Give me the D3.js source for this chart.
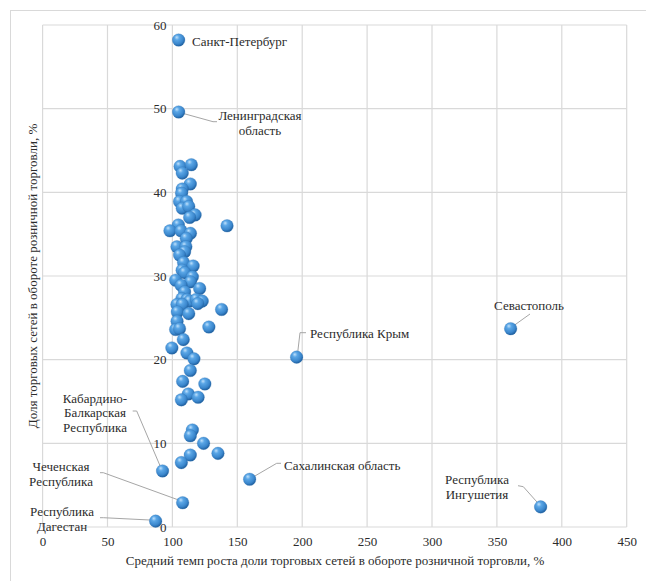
<!DOCTYPE html>
<html><head><meta charset="utf-8">
<script src="https://cdn.jsdelivr.net/npm/d3@7/dist/d3.min.js"></script>
<style>body{margin:0;background:#fff}svg{display:block}</style>
</head><body>
<script>
// Unlabelled regions: x = average growth rate (%), y = share (%)
const clusterX = [105.9,114.6,107.6,113.8,107.6,107.1,105.5,110.9,107.6,112.6,117.5,113.3,142.1,104.6,98.1,106.6,113.9,110.7,103.5,110.4,109.4,105.5,108.6,116.0,107.5,109.4,115.4,102.5,113.9,106.7,121.0,109.4,107.3,111.3,113.3,118.4,123.0,103.5,107.6,119.6,137.9,103.8,112.6,103.6,102.5,105.5,128.1,108.4,99.6,111.2,116.6,113.8,107.9,125.0,112.3,106.9,119.8,115.4,113.8,124.0,113.8,106.9,135.1];
const clusterY = [43.1,43.3,42.3,41.0,40.4,39.9,38.9,38.9,38.1,38.3,37.3,37.0,36.0,36.1,35.4,35.4,35.1,34.5,33.5,33.5,32.9,32.5,31.6,31.2,30.7,30.4,29.9,29.5,29.3,28.9,28.5,28.1,27.3,27.2,27.0,27.2,27.0,26.6,26.6,26.7,26.0,25.7,25.5,24.6,23.6,23.7,23.9,22.4,21.4,20.8,20.1,18.7,17.4,17.1,15.9,15.2,15.5,11.6,10.9,10.0,8.6,7.7,8.8];
// Labelled regions
const labelNames = ["Санкт-Петербург","Ленинградская область","Севастополь","Республика Крым","Сахалинская область","Республика Ингушетия","Кабардино-Балкарская Республика","Чеченская Республика","Республика Дагестан"];
const labelX = [104.8,104.8,360.6,195.7,159.5,383.7,92.4,107.9,87.1];
const labelY = [58.2,49.6,23.7,20.3,5.7,2.4,6.7,2.9,0.7];
const xTicks = [0,50,100,150,200,250,300,350,400,450];
const yTicks = [0,10,20,30,40,50,60];
const xTitle = "Средний темп роста доли торговых сетей в обороте розничной торговли, %";
const yTitle = "Доля торговых сетей в обороте розничной торговли, %";

const W = 646, H = 581;
const FONT = "'Liberation Serif'";
const TXT = "#2b2b2b";
const svg = d3.select("body").append("svg").attr("width", W).attr("height", H);

const x = d3.scaleLinear().domain([0,450]).range([42.6,626.7]);
const y = d3.scaleLinear().domain([0,60]).range([527,25]);

// outer border
svg.append("rect").attr("x",10.5).attr("y",10.5).attr("width",W).attr("height",H)
  .attr("fill","none").attr("stroke","#d9d9d9");

const defs = svg.append("defs");
const g = defs.append("radialGradient").attr("id","ball").attr("cx","40%").attr("cy","35%").attr("r","65%").attr("fx","35%").attr("fy","28%");
g.append("stop").attr("offset","0%").attr("stop-color","#bfe0fb");
g.append("stop").attr("offset","30%").attr("stop-color","#5aa6e6");
g.append("stop").attr("offset","75%").attr("stop-color","#3a86cc");
g.append("stop").attr("offset","100%").attr("stop-color","#1f5f9e");

// grid
const grid = svg.append("g");
grid.selectAll(".vx").data(xTicks).join("line")
  .attr("x1",d=>x(d)).attr("x2",d=>x(d)).attr("y1",y(60)).attr("y2",y(0))
  .attr("stroke","#d9d9d9").attr("stroke-width",1.2);
grid.selectAll(".hy").data(yTicks).join("line")
  .attr("x1",x(0)).attr("x2",x(450)).attr("y1",d=>y(d)).attr("y2",d=>y(d))
  .attr("stroke","#d9d9d9").attr("stroke-width",1.2);

// axes (x axis labels below y=0, y axis labels left of x=100)
const xAxis = d3.axisBottom(x).tickValues(xTicks).tickSize(0).tickPadding(10);
const xa = svg.append("g").attr("transform",`translate(0,${y(0)})`).call(xAxis)
  .attr("font-family",null).attr("font-size",null);
xa.select(".domain").remove();
xa.selectAll("text").style("font-family",FONT).style("font-size","13px").attr("fill",TXT);
const yAxis = d3.axisLeft(y).tickValues(yTicks).tickSize(0).tickPadding(6);
const ya = svg.append("g").attr("transform",`translate(${x(100)},0)`).call(yAxis)
  .attr("font-family",null).attr("font-size",null);
ya.select(".domain").remove();
ya.selectAll("text").style("font-family",FONT).style("font-size","13px").attr("fill",TXT);

// titles
svg.append("text").attr("x",335).attr("y",565).attr("text-anchor","middle")
  .style("font-family",FONT).style("font-size","13px").attr("fill",TXT).text(xTitle);
svg.append("text").attr("transform","translate(37,276) rotate(-90)").attr("text-anchor","middle")
  .style("font-family",FONT).style("font-size","13px").attr("fill",TXT).text(yTitle);

// leader lines
const leaders = [
  null,
  [[x(labelX[1])+3,y(labelY[1])+1],[213,121.7],[217,121.7]],
  [[x(labelX[2])+3,y(labelY[2])-3],[530,314]],
  [[x(labelX[3])+1,y(labelY[3])-4],[300,332.7],[306,332.7]],
  [[x(labelX[4])+3,y(labelY[4])-2],[276.7,463.3],[281,463.3]],
  [[518,485.7],[523.3,486.7],[x(labelX[5])-2,y(labelY[5])-3]],
  [[132.7,411],[136.7,411],[x(labelX[6])-2,y(labelY[6])-4]],
  [[100,472.7],[103.3,472.7],[x(labelX[7])-2,y(labelY[7])-2]],
  [[100,517.7],[103.3,517.7],[x(labelX[8])-3,y(labelY[8])-1]]
];
svg.append("g").selectAll("path").data(leaders.filter(d=>d)).join("path")
  .attr("d",d=>d3.line()(d)).attr("fill","none").attr("stroke","#a6a6a6").attr("stroke-width",1);

// points
const pts = clusterX.map((v,i)=>({x:v,y:clusterY[i]})).concat(labelX.map((v,i)=>({x:v,y:labelY[i]})));
svg.append("g").selectAll("circle").data(pts).join("circle")
  .attr("cx",d=>x(d.x)).attr("cy",d=>y(d.y)).attr("r",6.3)
  .attr("fill","url(#ball)").attr("stroke","#2f75b5").attr("stroke-width",0.3);

// labels
const labelLines = [
  {lines:["Санкт-Петербург"], x:192, y:41, anchor:"start"},
  {lines:["Ленинградская","область"], x:260, y:115, anchor:"middle"},
  {lines:["Севастополь"], x:529, y:305, anchor:"middle"},
  {lines:["Республика Крым"], x:310, y:333, anchor:"start"},
  {lines:["Сахалинская область"], x:284, y:465, anchor:"start"},
  {lines:["Республика","Ингушетия"], x:477, y:479, anchor:"middle"},
  {lines:["Кабардино-","Балкарская","Республика"], x:95, y:397.5, anchor:"middle"},
  {lines:["Чеченская","Республика"], x:61, y:466, anchor:"middle"},
  {lines:["Республика","Дагестан"], x:62, y:511, anchor:"middle"}
];
const lg = svg.append("g");
labelLines.forEach((L,i)=>{
  const t = lg.append("text").attr("x",L.x).attr("y",L.y).attr("text-anchor",L.anchor)
    .style("font-family",FONT).style("font-size","13px").attr("fill",TXT)
    .attr("dominant-baseline","central").attr("data-name",labelNames[i]);
  L.lines.forEach((s,j)=>t.append("tspan").attr("x",L.x).attr("dy",j?"1.13em":0).text(s));
});
</script>
</body></html>
